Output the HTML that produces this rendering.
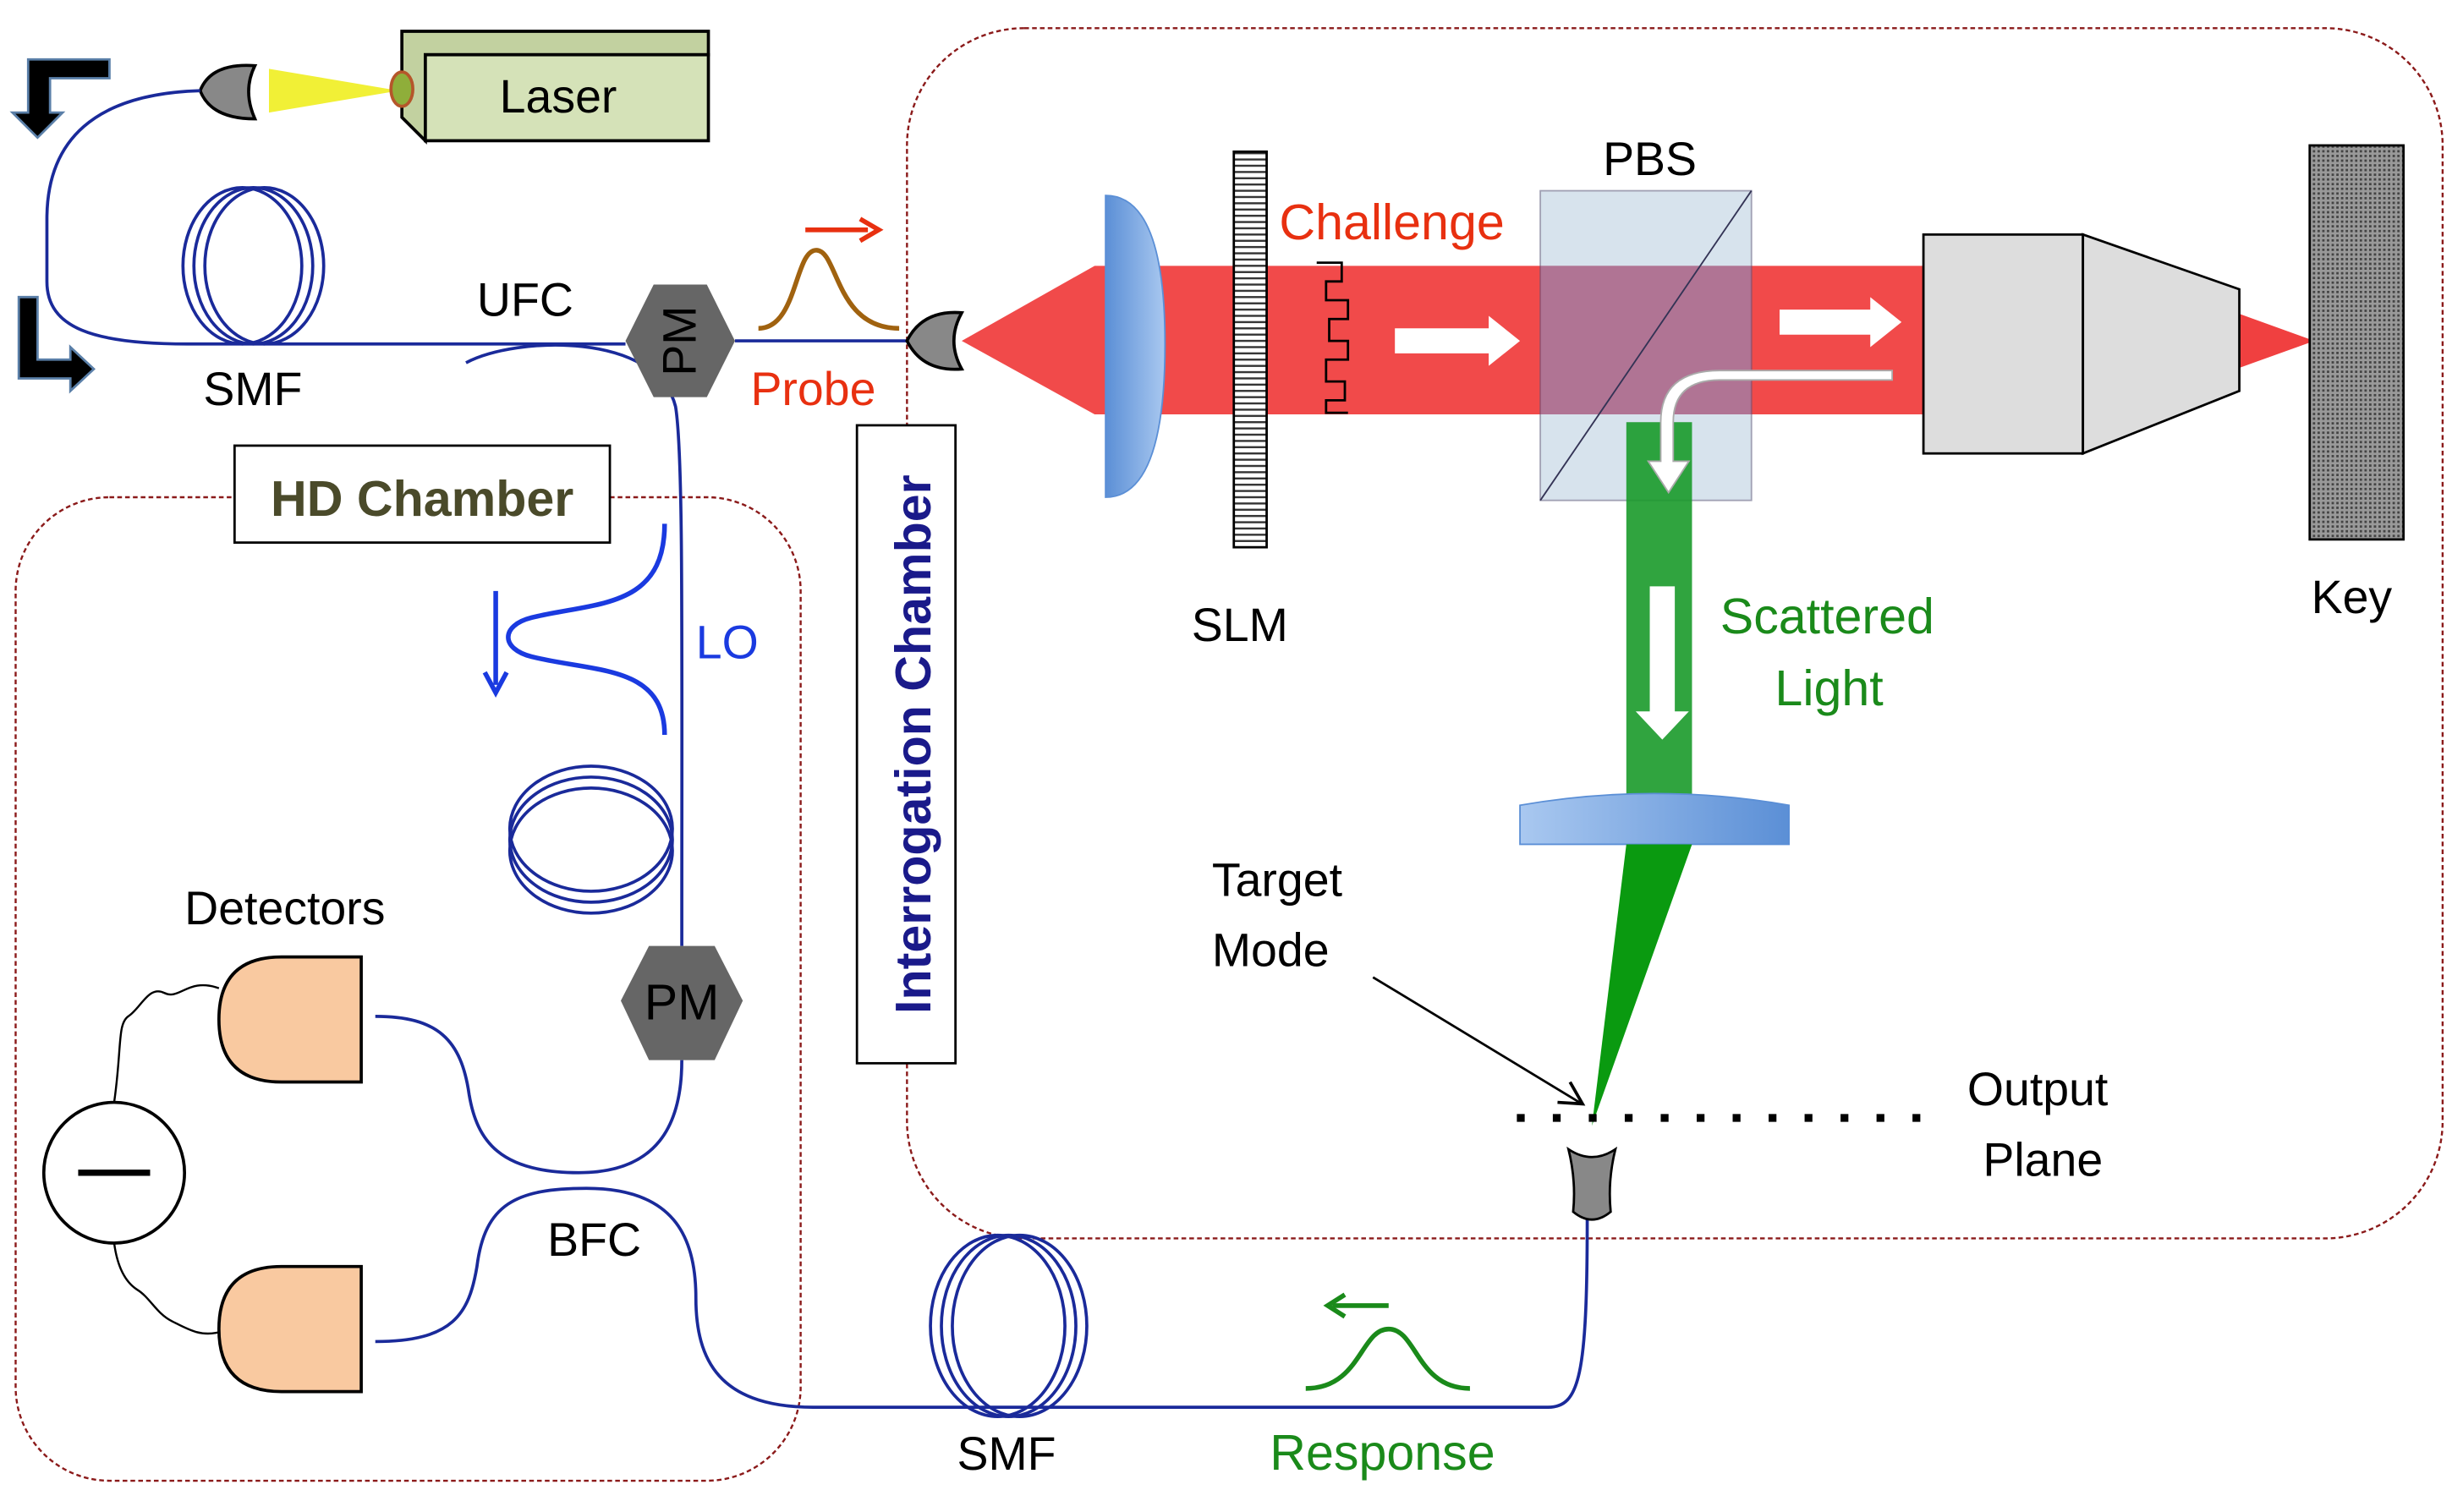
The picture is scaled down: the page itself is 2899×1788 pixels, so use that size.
<!DOCTYPE html>
<html><head><meta charset="utf-8"><style>
html,body{margin:0;padding:0;background:#fff}
svg{display:block}
text{font-family:"Liberation Sans",sans-serif}
</style></head><body>
<svg width="2899" height="1788" viewBox="0 0 1568 967" preserveAspectRatio="none" xmlns="http://www.w3.org/2000/svg">
<defs>
<pattern id="hatch" width="4" height="4" patternUnits="userSpaceOnUse"><rect width="4" height="4" fill="#fff"/><path d="M0 2H4" stroke="#333" stroke-width="1.3"/></pattern>
<pattern id="dots" width="3" height="3" patternUnits="userSpaceOnUse"><rect width="3" height="3" fill="#999"/><rect width="1.5" height="1.5" fill="#444"/></pattern>
<linearGradient id="lens" x1="0" x2="1"><stop offset="0" stop-color="#5b8fd6"/><stop offset="1" stop-color="#a9c8f0"/></linearGradient>
<linearGradient id="lens2" x1="0" x2="1"><stop offset="0" stop-color="#a9c8f0"/><stop offset="1" stop-color="#5b8fd6"/></linearGradient>
</defs>
<rect x="580" y="18" width="982" height="774" rx="75" fill="none" stroke="#8b1a1a" stroke-width="1.3" stroke-dasharray="3,2"/>
<rect x="10" y="318" width="502" height="629" rx="60" fill="none" stroke="#8b1a1a" stroke-width="1.3" stroke-dasharray="3,2"/>

<polygon points="257,20 453,20 453,35 272,35 272,90 257,75" fill="#c2d1a0" stroke="#000" stroke-width="2"/>
<rect x="272" y="35" width="181" height="55" fill="#d5e2b8" stroke="#000" stroke-width="2"/>
<text x="357" y="72" font-size="30" text-anchor="middle">Laser</text>
<polygon points="172,44 255,58 172,72" fill="#f0ee20" opacity="0.9"/>
<ellipse cx="257" cy="57" rx="7" ry="11" fill="#8fae3a" stroke="#b5562a" stroke-width="2"/>
<path d="M128,58 Q135,40 163,42 Q155,58 163,76 Q135,76 128,58Z" fill="#888" stroke="#000" stroke-width="2"/>

<path d="M70,38 V50 H32 V72 H40 L24,88 L8,72 H18 V38Z" fill="#000" stroke="#5a7fa8" stroke-width="1.5"/>
<path d="M12,190 H24 V230 H45 V222 L60,236 L45,250 V242 H12Z" fill="#000" stroke="#5a7fa8" stroke-width="1.5"/>

<g fill="none" stroke="#1a2a9a" stroke-width="2">
<path d="M128,58 C60,60 30,90 30,140 V180 C30,210 60,220 120,220 H400"/>
<path d="M470,218 H580"/>
<path d="M298,232 C330,215 420,212 432,260 C437,290 436,400 436,605"/>
<path d="M436,678 C436,720 420,750 370,750 C320,750 305,730 300,700 C295,665 280,650 240,650"/>
<path d="M240,858 C290,858 300,840 305,810 C310,770 330,760 375,760 C430,760 445,790 445,830 C445,870 460,900 520,900 H990 C1010,900 1015,880 1015,780"/>
<ellipse cx="155" cy="170" rx="38" ry="50"/><ellipse cx="162" cy="170" rx="38" ry="50"/><ellipse cx="169" cy="170" rx="38" ry="50"/>
<ellipse cx="378" cy="530" rx="52" ry="40"/><ellipse cx="378" cy="537" rx="52" ry="40"/><ellipse cx="378" cy="544" rx="52" ry="40"/>
<ellipse cx="638" cy="848" rx="43" ry="58"/><ellipse cx="645" cy="848" rx="43" ry="58"/><ellipse cx="652" cy="848" rx="43" ry="58"/>
</g>
<text x="305" y="202" font-size="30">UFC</text>
<text x="130" y="259" font-size="30">SMF</text>

<polygon points="400,218 418,182 452,182 470,218 452,254 418,254" fill="#666"/>
<text x="0" y="0" font-size="30" transform="translate(445,218) rotate(-90)" text-anchor="middle">PM</text>
<polygon points="397,640 415,605 457,605 475,640 457,678 415,678" fill="#666"/>
<text x="436" y="652" font-size="32" text-anchor="middle">PM</text>

<path d="M485,210 C510,210 508,160 522,160 C536,160 534,210 575,210" fill="none" stroke="#a0620f" stroke-width="3"/>
<path d="M515,147 H555" stroke="#e83010" stroke-width="3"/><path d="M550,140 L562,147 L550,154" fill="none" stroke="#e83010" stroke-width="3"/>
<text x="480" y="259" font-size="30" fill="#e83010">Probe</text>

<path d="M615,200 Q590,198 580,218 Q590,238 615,236 Q605,218 615,200Z" fill="#888" stroke="#000" stroke-width="2"/>

<polygon points="615,218 700,170 1230,170 1230,265 700,265" fill="#f04040" opacity="0.95"/>
<polygon points="1430,200 1480,218 1430,236" fill="#f04040"/>
<path d="M707,125 Q745,125 745,220 Q745,318 707,318Z" fill="url(#lens)" stroke="#5b8fd6"/>
<rect x="789" y="97" width="21" height="253" fill="url(#hatch)" stroke="#000" stroke-width="1.5"/>
<text x="818" y="153" font-size="32" fill="#e83010">Challenge</text>
<path d="M842,168 H858 V180 H848 V192 H862 V204 H850 V218 H862 V230 H848 V244 H860 V256 H848 V264 H862" fill="none" stroke="#000" stroke-width="1.5"/>
<text x="762" y="410" font-size="30">SLM</text>
<rect x="985" y="122" width="135" height="198" fill="#b8cde0" opacity="0.55" stroke="#557" stroke-width="1"/>
<rect x="985" y="170" width="135" height="95" fill="#9a6090" opacity="0.6"/>
<line x1="985" y1="320" x2="1120" y2="122" stroke="#335" stroke-width="1"/>
<text x="1025" y="112" font-size="30">PBS</text>
<rect x="1040" y="270" width="42" height="240" fill="#1a9a2a" opacity="0.9"/>
<path d="M972,515 Q1058,500 1144,515 V540 H972Z" fill="url(#lens2)" stroke="#5b8fd6"/>
<polygon points="1040,540 1082,540 1018,720" fill="#0a9a10"/>
<rect x="1230" y="150" width="102" height="140" fill="#ddd" stroke="#000" stroke-width="1.5"/>
<polygon points="1332,150 1432,185 1432,250 1332,290" fill="#ddd" stroke="#000" stroke-width="1.5"/>
<rect x="1477" y="93" width="60" height="252" fill="url(#dots)" stroke="#000" stroke-width="1.5"/>
<text x="1478" y="392" font-size="30">Key</text>

<g fill="#fff">
<polygon points="892,210 952,210 952,202 972,218 952,234 952,226 892,226"/>
<polygon points="1138,198 1196,198 1196,190 1216,206 1196,222 1196,214 1138,214"/>
<polygon points="1055,375 1071,375 1071,455 1080,455 1063,473 1046,455 1055,455"/>
<path d="M1210,243 H1100 Q1070,243 1070,270 V295 H1080 L1067,315 L1054,295 H1062 V270 Q1062,237 1100,237 H1210Z" stroke="#aaa" stroke-width="1" fill="#fff"/>
</g>
<text x="1100" y="405" font-size="32" fill="#1a8a1a">Scattered</text>
<text x="1135" y="451" font-size="32" fill="#1a8a1a">Light</text>

<text x="775" y="573" font-size="30">Target</text>
<text x="775" y="618" font-size="30">Mode</text>
<line x1="878" y1="625" x2="1010" y2="705" stroke="#000" stroke-width="1.5"/>
<path d="M996,705 L1012,706 L1004,692" fill="none" stroke="#000" stroke-width="2"/>
<line x1="970" y1="715" x2="1245" y2="715" stroke="#000" stroke-width="5" stroke-dasharray="5,18"/>
<text x="1258" y="707" font-size="30">Output</text>
<text x="1268" y="752" font-size="30">Plane</text>
<path d="M1003,735 Q1018,745 1033,735 Q1028,755 1030,775 Q1018,785 1006,775 Q1008,755 1003,735Z" fill="#888" stroke="#000" stroke-width="1.5"/>

<path d="M835,888 C870,888 870,850 888,850 C906,850 906,888 940,888" fill="none" stroke="#1a8a1a" stroke-width="3"/>
<path d="M852,835 H888" stroke="#1a8a1a" stroke-width="3"/><path d="M860,828 L849,835 L860,842" fill="none" stroke="#1a8a1a" stroke-width="3"/>
<text x="812" y="940" font-size="32" fill="#1a8a1a">Response</text>
<text x="612" y="940" font-size="30">SMF</text>

<rect x="548" y="272" width="63" height="408" fill="#fff" stroke="#000" stroke-width="1.5"/>
<text font-size="32" font-weight="bold" fill="#1a1a8a" text-anchor="middle" transform="translate(595,476) rotate(-90)">Interrogation Chamber</text>

<rect x="150" y="285" width="240" height="62" fill="#fff" stroke="#000" stroke-width="1.5"/>
<text x="270" y="330" font-size="32" font-weight="bold" fill="#4a4a2a" text-anchor="middle">HD Chamber</text>

<path d="M425,335 C425,390 380,385 340,395 C320,400 320,415 340,420 C380,430 425,425 425,470" fill="none" stroke="#1a3ae0" stroke-width="3"/>
<path d="M317,378 V438" stroke="#1a3ae0" stroke-width="3"/><path d="M310,430 L317,443 L324,430" fill="none" stroke="#1a3ae0" stroke-width="3"/>
<text x="445" y="421" font-size="30" fill="#1a3ae0">LO</text>

<text x="118" y="591" font-size="30">Detectors</text>
<path d="M231,612 H180 Q140,612 140,652 Q140,692 180,692 H231Z" fill="#f9c9a0" stroke="#000" stroke-width="2"/>
<path d="M231,810 H180 Q140,810 140,850 Q140,890 180,890 H231Z" fill="#f9c9a0" stroke="#000" stroke-width="2"/>
<circle cx="73" cy="750" r="45" fill="#fff" stroke="#000" stroke-width="2"/>
<line x1="50" y1="750" x2="96" y2="750" stroke="#000" stroke-width="4"/>
<path d="M140,632 C120,625 115,640 105,635 C95,630 90,645 82,650 C75,655 78,670 73,705" fill="none" stroke="#000" stroke-width="1.3"/>
<path d="M73,795 C75,810 80,820 88,825 C96,830 100,840 110,845 C120,850 128,855 140,852" fill="none" stroke="#000" stroke-width="1.3"/>
<text x="350" y="803" font-size="30">BFC</text>
</svg>
</body></html>
